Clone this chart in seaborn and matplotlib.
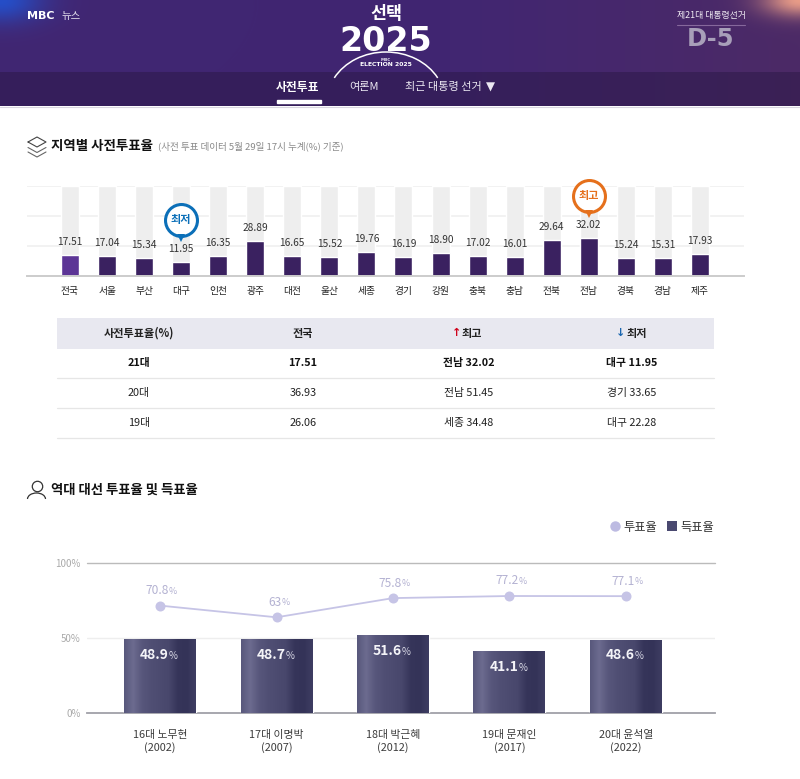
import numpy as np
import pandas as pd
import matplotlib
matplotlib.use("Agg")
import matplotlib.pyplot as plt
from matplotlib.patches import Arc, Rectangle
from matplotlib.lines import Line2D
from matplotlib.transforms import offset_copy
import seaborn as sns

regions = ["전국","서울","부산","대구","인천","광주","대전","울산","세종","경기","강원","충북","충남","전북","전남","경북","경남","제주"]
early_turnout = [17.51,17.04,15.34,11.95,16.35,28.89,16.65,15.52,19.76,16.19,18.90,17.02,16.01,29.64,32.02,15.24,15.31,17.93]
track_top = 75

table_header = ["사전투표율(%)", "전국", "최고", "최저"]
table_rows = [["21대","17.51","전남 32.02","대구 11.95"],
              ["20대","36.93","전남 51.45","경기 33.65"],
              ["19대","26.06","세종 34.48","대구 22.28"]]

elections = ["16대 노무현\n(2002)","17대 이명박\n(2007)","18대 박근혜\n(2012)","19대 문재인\n(2017)","20대 윤석열\n(2022)"]
turnout = [70.8, 63, 75.8, 77.2, 77.1]
turnout_labels = ["70.8","63","75.8","77.2","77.1"]
vote_share = [48.9, 48.7, 51.6, 41.1, 48.6]

sns.set_theme(style="white")
KR = ["Noto Sans CJK KR", "DejaVu Sans"]
plt.rcParams["font.family"] = KR
W, H = 800, 779
fig = plt.figure(figsize=(W/100, H/100), dpi=100, facecolor="white")

def px_axes(l, t, r, b, **kw):
    return fig.add_axes([l/W, 1-b/H, (r-l)/W, (b-t)/H], **kw)

# page layer in pixel coordinates
bg = px_axes(0, 0, W, H, zorder=0)
bg.set_xlim(0, W); bg.set_ylim(H, 0); bg.axis("off")

# header backdrop
yy, xx = np.mgrid[0:106, 0:800]
base = np.array([0x41, 0x26, 0x72], float)
img = np.ones((106, 800, 3)) * base
right = np.clip((xx-450)/350, 0, 1)[..., None]
img = img*(1-right) + np.array([0x4c, 0x2a, 0x66])*right
blue = np.exp(-np.hypot(xx/42, yy/22)**2)[..., None]
img = img*(1-blue) + np.array([0x25, 0x4e, 0xc8])*blue
pink = np.exp(-np.hypot((xx-800)/38, yy/16)**2)[..., None]
img = img*(1-pink) + np.array([0xe8, 0x9c, 0x88])*pink
img[72:, :] = img[72:, :]*0.55 + np.array([0x32, 0x1c, 0x52])*0.45
img[72:, :] *= 0.92
bg.imshow(img/255, extent=(0, 800, 106, 0), aspect="auto", zorder=0)
bg.set_xlim(0, W); bg.set_ylim(H, 0)
bg.plot([0, 800], [106.5, 106.5], color="#d8d6de", lw=0.8)

T = dict(va="center", zorder=5)
bg.text(27, 16, "MBC", color="white", fontsize=8, fontweight="bold", family="DejaVu Sans", **T)
bg.text(62, 16, "뉴스", color="#e8e4f0", fontsize=7.5, **T)
bg.text(386, 14, "선택", color="white", fontsize=12.5, fontweight="bold", ha="center", **T)
bg.text(386, 41, "2025", color="white", fontsize=24, fontweight="bold", ha="center", family="DejaVu Sans", **T)
bg.add_patch(Arc((386, 102), 118, 100, theta1=205, theta2=335, color="white", lw=1.1, zorder=5))
bg.text(386, 59.5, "MBC", color="#e8e4f0", fontsize=3, fontweight="bold", ha="center", family="DejaVu Sans", **T)
bg.text(386, 64.5, "ELECTION 2025", color="white", fontsize=4.4, fontweight="bold", ha="center", family="DejaVu Sans", **T)
bg.text(711, 15, "제21대 대통령선거", color="#f2eef5", fontsize=6.4, ha="center", **T)
bg.plot([677, 745], [24.5, 24.5], color="#86689c", lw=0.8)
bg.text(711, 39, "D-5", color="#a89fb9", fontsize=17.5, fontweight="bold", ha="center", family="DejaVu Sans", **T)
bg.text(298, 87, "사전투표", color="white", fontsize=8.5, fontweight="bold", ha="center", **T)
bg.text(363.5, 87, "여론M", color="#ece8f2", fontsize=8, ha="center", **T)
bg.text(443, 87, "최근 대통령 선거", color="#ece8f2", fontsize=8, ha="center", **T)
bg.text(490, 87, "▼", color="#ece8f2", fontsize=8.5, ha="center", family="DejaVu Sans", **T)
bg.add_patch(Rectangle((277, 100), 44, 2.5, color="white", zorder=5))

# section headings and icons
bg.text(51, 146, "지역별 사전투표율", color="#111111", fontsize=9.7, fontweight="bold", **T)
bg.text(158, 146.5, "(사전 투표 데이터 5월 29일 17시 누계(%) 기준)", color="#8a8a8a", fontsize=6.9, **T)
for dy, col in [(0, "#444444"), (4.5, "#666666"), (9, "#666666")]:
    xs = [28, 37, 46] if dy else [28, 37, 46, 37, 28]
    ys = [143+dy, 148+dy, 143+dy] if dy else [142, 137, 142, 147, 142]
    bg.plot(xs, ys, color=col, lw=0.8)
bg.text(51, 490, "역대 대선 투표율 및 득표율", color="#111111", fontsize=9.6, fontweight="bold", **T)
bg.plot([36.5], [486], marker="o", ms=7.5, mfc="none", mec="#333333", mew=0.9)
bg.add_patch(Arc((36.5, 499), 18, 12, theta1=180, theta2=360, color="#333333", lw=0.9))

# table
bg.add_patch(Rectangle((57, 318), 657, 31, color="#e8e8f0", lw=0))
cols = [139, 303, 469, 632]
for c, head in zip(cols, table_header):
    offs = {"최고": 3, "최저": 5}.get(head, 0)
    bg.text(c+offs, 333, head, color="#222222", fontsize=8, fontweight="bold", ha="center", **T)
bg.text(456.5, 333, "↑", color="#d0021b", fontsize=8, ha="center", family="DejaVu Sans", fontweight="bold", **T)
bg.text(620.5, 333, "↓", color="#1a66b0", fontsize=8, ha="center", family="DejaVu Sans", fontweight="bold", **T)
for r, row in enumerate(table_rows):
    y = 363 + 30*r
    for c, val in zip(cols, row):
        bg.text(c, y, val, color="#222222" if r else "#111111", fontsize=7.8,
                fontweight="bold" if r == 0 else "normal", ha="center", **T)
    bg.plot([57, 714], [y+15.3]*2, color="#e6e6e6", lw=0.9)

# regional early-voting chart
ax1 = px_axes(27, 186, 744, 276, zorder=2)
ax1.patch.set_alpha(0)
ax1.yaxis.grid(True, color="#f0f0f0", lw=1.2)
ax1.set_axisbelow(True)
sns.barplot(x=regions, y=[track_top]*len(regions), color="#eeeeee", saturation=1, width=0.486, ax=ax1)
sns.barplot(x=regions, y=early_turnout, hue=regions, legend=False, saturation=1, width=0.486, ax=ax1,
            palette=["#5c3596"] + ["#3a2160"]*(len(regions)-1))
ax1.set_xlim(-1.16, 18.19)
ax1.set_ylim(0, track_top)
ax1.set_yticks([25, 50, 75]); ax1.set_yticklabels([])
ax1.set_ylabel("")
ax1.tick_params(axis="x", length=0, pad=7, labelsize=7, labelcolor="#222222")
ax1.tick_params(axis="y", length=0)
sns.despine(ax=ax1, left=True)
ax1.spines["bottom"].set_color("#cccccc"); ax1.spines["bottom"].set_linewidth(1.4)
for i, v in enumerate(early_turnout):
    ax1.annotate(f"{v:.2f}", (i, v), xytext=(0, 13), textcoords="offset pixels", ha="center", va="center",
                 fontsize=7.3, color="#333333", zorder=6, annotation_clip=False)
for name, word, col in [("대구", "최저", "#0b6fb8"), ("전남", "최고", "#e5701c")]:
    i = regions.index(name); v = early_turnout[i]
    circ = offset_copy(ax1.transData, fig=fig, x=0, y=42, units="dots")
    tip = offset_copy(ax1.transData, fig=fig, x=0, y=23.5, units="dots")
    ax1.plot([i], [v], marker="v", ms=5.5, color=col, mew=0, transform=tip, clip_on=False, zorder=9)
    ax1.plot([i], [v], marker="o", ms=23, mfc="white", mec=col, mew=2.2, transform=circ, clip_on=False, zorder=8)
    ax1.annotate(word, (i, v), xytext=(0, 42), textcoords="offset pixels", ha="center", va="center",
                 fontsize=8, fontweight="bold", color=col, zorder=9, annotation_clip=False)

# past elections chart
ax2 = px_axes(87, 563.3, 714.5, 713.3, zorder=2)
ax2.patch.set_alpha(0)
sns.barplot(x=elections, y=vote_share, color="#4b4a6e", saturation=1, width=0.618, ax=ax2, zorder=3)
grad = np.array([[0x58,0x58,0x7c],[0x6c,0x6b,0x8f],[0x58,0x57,0x7c],[0x50,0x4f,0x74],
                 [0x4c,0x4b,0x70],[0x48,0x47,0x6c],[0x36,0x35,0x5a],[0x34,0x33,0x58],[0x3e,0x3d,0x62]])/255
stops = np.linspace(0, 1, len(grad))
u = np.linspace(0, 1, 144)
ramp = np.stack([np.interp(u, stops, grad[:, k]) for k in range(3)], axis=-1)[None, ...]
for b in list(ax2.patches):
    ax2.imshow(ramp, extent=(b.get_x(), b.get_x()+b.get_width(), 0, b.get_height()),
               aspect="auto", zorder=3.5, interpolation="bilinear")
ax2.set_xlim(-0.627, 4.76)
ax2.set_ylim(0, 100)
ax2.set_yticks([0, 50, 100])
ax2.set_yticklabels(["0%", "50%", "100%"])
ax2.set_ylabel("")
ax2.tick_params(axis="y", length=0, pad=4.5, labelsize=7, labelcolor="#aaaaaa")
ax2.tick_params(axis="x", length=0, pad=12, labelsize=7.8, labelcolor="#3c3c3c")
for lab in ax2.get_xticklabels():
    lab.set_linespacing(1.25)
ax2.axhline(100, color="#bbbbbb", lw=1.0, zorder=1, clip_on=False)
ax2.axhline(50, color="#eeeeee", lw=1.0, zorder=1)
sns.despine(ax=ax2, left=True, top=True, right=True)
ax2.spines["bottom"].set_color("#a0a0a8"); ax2.spines["bottom"].set_linewidth(1.3)

sns.lineplot(x=list(range(len(turnout))), y=turnout, color="#c6c4e6", lw=1.3, marker="o", ms=7.2,
             markeredgewidth=0, sort=False, ax=ax2, zorder=4, errorbar=None)
ax2.lines[-1].set_transform(offset_copy(ax2.transData, fig=fig, x=0, y=1.5, units="dots"))
ax2.set_xlim(-0.627, 4.76); ax2.set_ylim(0, 100)

for i, (v, s) in enumerate(zip(turnout, turnout_labels)):
    ax2.annotate(s, (i, v), xytext=(9 if len(s) > 2 else 5, 16.5), textcoords="offset pixels", ha="right", va="center",
                 fontsize=8.6, color="#b4b2d2", zorder=6)
    ax2.annotate("%", (i, v), xytext=(9 if len(s) > 2 else 5, 16), textcoords="offset pixels", ha="left", va="center",
                 fontsize=6.4, color="#b4b2d2", zorder=6)
for i, v in enumerate(vote_share):
    ax2.annotate(f"{v}", (i, v), xytext=(9, -15), textcoords="offset pixels", ha="right", va="center",
                 fontsize=10, fontweight="bold", color="#f4f4f8", zorder=6)
    ax2.annotate("%", (i, v), xytext=(9, -16), textcoords="offset pixels", ha="left", va="center",
                 fontsize=7, color="#dcdce8", zorder=6)

handles = [Line2D([], [], ls="", marker="o", ms=7.5, color="#bdbbe2", mew=0),
           Line2D([], [], ls="", marker="s", ms=6.8, color="#4a4970", mew=0)]
bg.legend(handles, ["투표율", "득표율"], ncol=2, frameon=False, loc="center right",
          bbox_to_anchor=(714.5, 527), bbox_transform=bg.transData, fontsize=8.8,
          handletextpad=0.0, columnspacing=0.5, labelcolor="#333333",
          borderpad=0, borderaxespad=0, handlelength=1.4)

fig.savefig("out.png", dpi=100, facecolor="white")
